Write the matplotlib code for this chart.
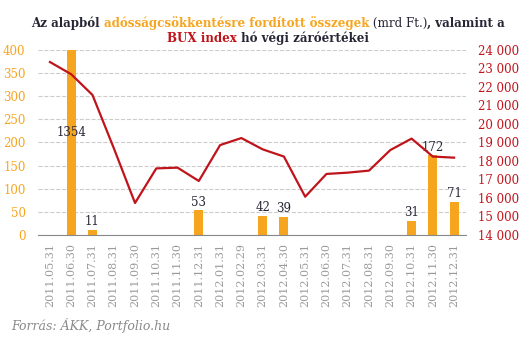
import matplotlib
matplotlib.use("Agg")
import matplotlib.pyplot as plt
from matplotlib.ticker import FuncFormatter, MultipleLocator

dates = ["2011.05.31", "2011.06.30", "2011.07.31", "2011.08.31", "2011.09.30",
         "2011.10.31", "2011.11.30", "2011.12.31", "2012.01.31", "2012.02.29",
         "2012.03.31", "2012.04.30", "2012.05.31", "2012.06.30", "2012.07.31",
         "2012.08.31", "2012.09.30", "2012.10.31", "2012.11.30", "2012.12.31"]
# debt reduction from the fund (mrd Ft.), 0 = nothing that month
amounts = [0, 1354, 11, 0, 0, 0, 0, 53, 0, 0, 42, 39, 0, 0, 0, 0, 0, 31, 172, 71]
# where the labels sit (the 1354 bar is cut off at 400)
label_pos = [0, 222, 11, 0, 0, 0, 0, 53, 0, 0, 42, 39, 0, 0, 0, 0, 0, 31, 172, 71]
bux = [23350, 22690, 21570, 18700, 15730, 17600, 17640, 16920, 18860, 19240,
       18630, 18240, 16070, 17300, 17370, 17480, 18590, 19210, 18240, 18180]

ORANGE = "#f6a51f"
RED = "#c0141c"
DARK = "#262636"
GREY = "#9a9a9a"
SERIF = "DejaVu Serif"

plt.rcParams["font.family"] = SERIF

fig = plt.figure(figsize=(5.31, 3.42), dpi=100)
ax = fig.add_axes([0.0716, 0.3129, 0.806, 0.5409])
ax2 = ax.twinx()

x = list(range(len(dates)))
ax.bar(x, amounts, width=0.42, color=ORANGE, zorder=2)
for i, (a, p) in enumerate(zip(amounts, label_pos)):
    if a == 0:
        continue
    if p < a:
        ax.text(i, p, str(a), ha="center", va="center", fontsize=8.5,
                color=DARK, zorder=5)
    else:
        ax.text(i, p + 4, str(a), ha="center", va="bottom", fontsize=8.5,
                color=DARK, zorder=5)

ax.set_ylim(0, 400)
ax.set_xlim(-0.56, 19.56)
ax.yaxis.set_major_locator(MultipleLocator(50))
ax.grid(axis="y", color="#cccccc", linestyle="--", linewidth=0.8, zorder=0)
ax.set_axisbelow(True)
ax.set_xticks(x)
ax.set_xticklabels(dates, rotation=90, fontsize=8, color=GREY)
ax.tick_params(axis="y", colors=ORANGE, labelsize=8.5, length=0, pad=9)
ax.tick_params(axis="x", length=0, pad=6)
for s in ["top", "right", "left"]:
    ax.spines[s].set_visible(False)
ax.spines["bottom"].set_color("#888888")

ax2.plot(x, bux, color=RED, linewidth=1.6, zorder=3)
ax2.set_ylim(14000, 24000)
ax2.yaxis.set_major_locator(MultipleLocator(1000))
ax2.yaxis.set_major_formatter(FuncFormatter(lambda v, p: f"{int(v):,}".replace(",", " ")))
ax2.tick_params(axis="y", colors=RED, labelsize=8.5, length=0, pad=8.5)
for s in ax2.spines.values():
    s.set_visible(False)


def rich_line(y, parts, size=8.6, center=0.505):
    renderer = fig.canvas.get_renderer()
    items = []
    for s, color, weight in parts:
        t = fig.text(0, y, s, color=color, fontweight=weight, fontsize=size,
                     va="baseline")
        items.append((t, t.get_window_extent(renderer).width))
    total = sum(w for _, w in items)
    px = center * fig.bbox.width - total / 2
    for t, w in items:
        t.set_x(px / fig.bbox.width)
        px += w


rich_line(1 - 27 / 342, [("Az alapból ", DARK, "bold"),
                         ("adósságcsökkentésre fordított összegek", ORANGE, "bold"),
                         (" (mrd Ft.)", DARK, "normal"),
                         (", valamint a", DARK, "bold")])
rich_line(1 - 42 / 342, [("BUX index", RED, "bold"),
                         (" hó végi záróértékei", DARK, "bold")])

fig.text(0.022, 1 - 330 / 342, "Forrás: ÁKK, Portfolio.hu", fontsize=9,
         style="italic", color="#8a8a8a")

fig.savefig("out.png", dpi=100)
